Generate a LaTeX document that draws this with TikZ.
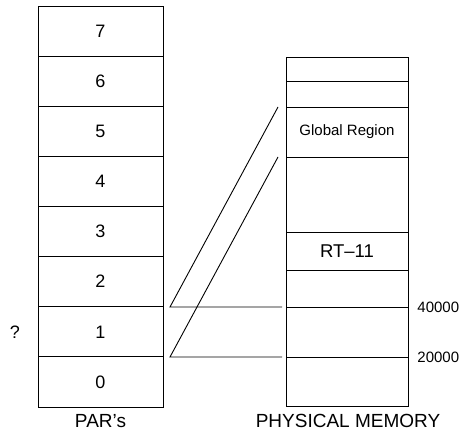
\documentclass[tikz,border=0pt]{standalone}
\usepackage{fontspec}
\setmainfont{Liberation Sans}
\begin{document}
\begin{tikzpicture}[x=1pt,y=-1pt,line width=0.9pt,
  cell/.style={draw,rectangle,inner sep=0pt,minimum width=125pt,font=\fontsize{18}{20}\selectfont},
  mcell/.style={draw,rectangle,inner sep=0pt,minimum width=122pt},
  lbl/.style={inner sep=0pt,font=\fontsize{19}{22}\selectfont},
  addr/.style={inner sep=0pt,font=\fontsize{15}{17}\selectfont}]
\useasboundingbox (0,0) rectangle (462,438);
% PAR column
\foreach \i in {0,...,7}{
  \pgfmathsetmacro{\yc}{407-50.125*\i-25.0625}
  \node[cell,minimum height=50.125pt] (p\i) at (100.5,\yc) {\i};
}
% physical memory column
\node[mcell,minimum height=24pt] (m7) at (347,69) {};
\node[mcell,minimum height=26pt] (m6) at (347,94) {};
\node[mcell,minimum height=50pt,font=\fontsize{15}{17}\selectfont] (m5) at (347,132) {Global Region};
\node[mcell,minimum height=75pt] (m4) at (347,194.5) {};
\node[mcell,minimum height=38pt,font=\fontsize{18.5}{21}\selectfont] (m3) at (347,251) {RT–11};
\node[mcell,minimum height=37pt] (m2) at (347,288.5) {};
\node[mcell,minimum height=50pt] (m1) at (347,332) {};
\node[mcell,minimum height=49pt] (m0) at (347,381.5) {};
% labels
\node[lbl] (parlbl) at (100.5,421) {PAR’s};
\node[lbl] (pmlbl) at (348,421) {PHYSICAL MEMORY};
\node[lbl,font=\fontsize{18}{20}\selectfont] (q) at (15,332) {?};
\node[addr,anchor=west] (a40) at (417,307) {40000};
\node[addr,anchor=west] (a20) at (417,357) {20000};
% mapping lines
\coordinate (u1) at (170,307);
\coordinate (u2) at (282,307);
\coordinate (u3) at (278,107);
\coordinate (l1) at (170,357);
\coordinate (l2) at (282,357);
\coordinate (l3) at (278,157);
\draw (u2) -- (u1) -- (u3);
\draw (l2) -- (l1) -- (l3);
\end{tikzpicture}
\end{document}
